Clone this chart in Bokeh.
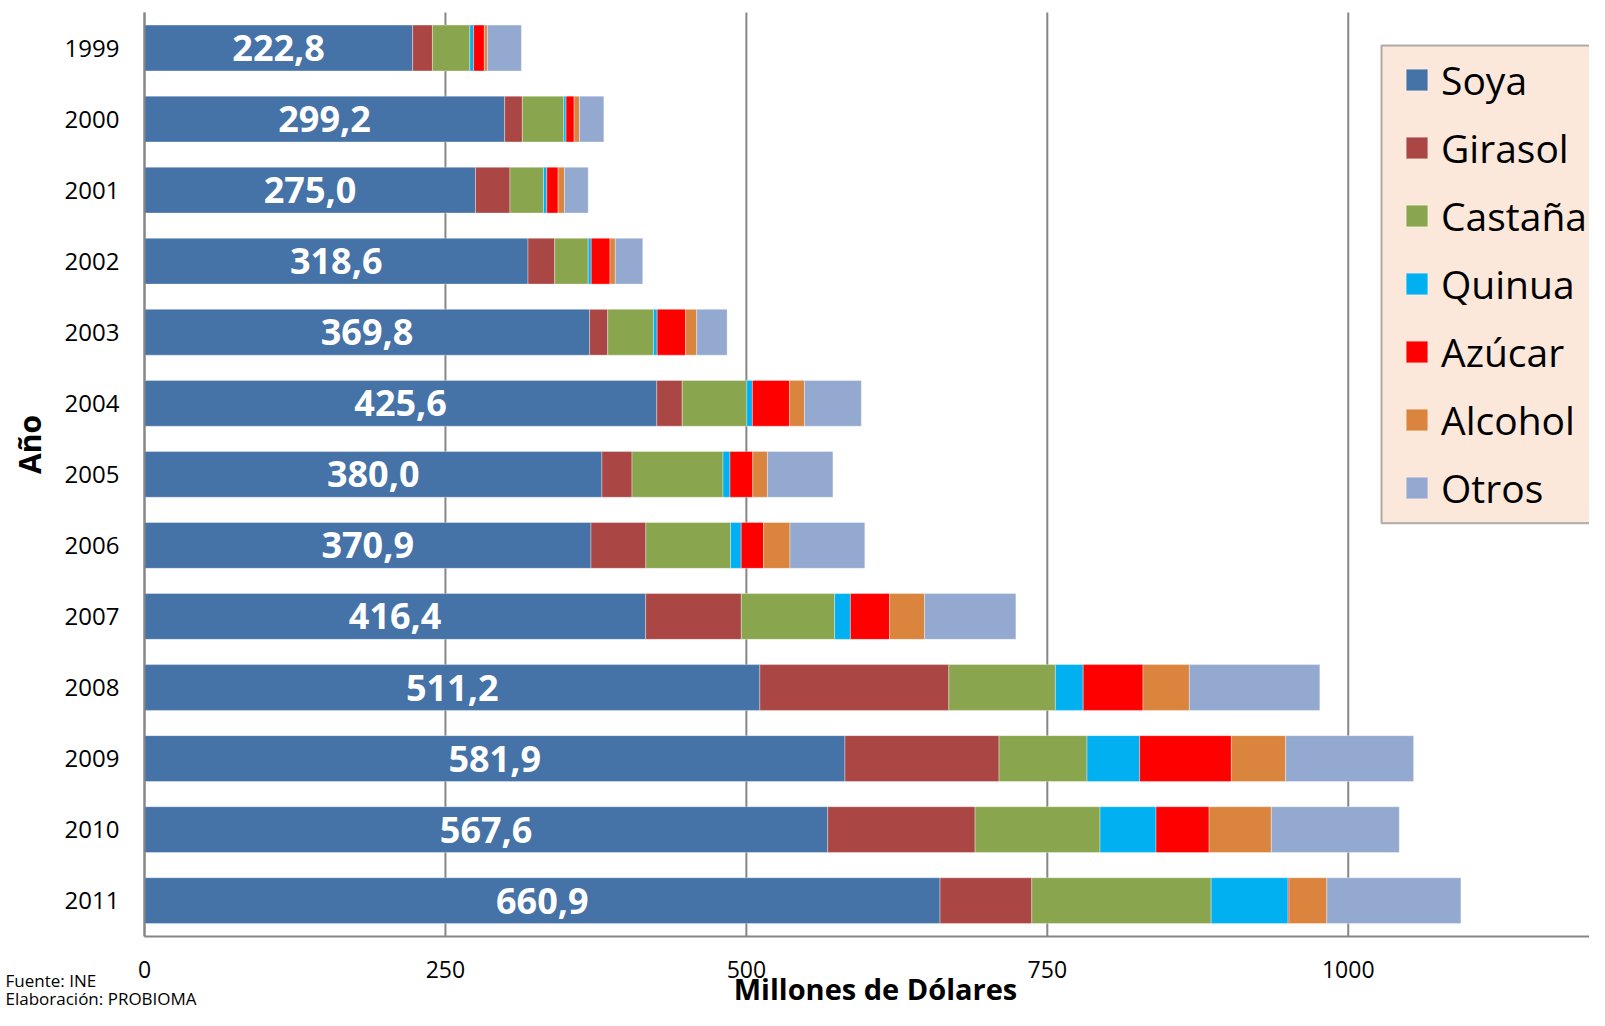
import math
from bokeh.plotting import figure
from bokeh.models import (ColumnDataSource, Range1d, FixedTicker, Legend, LegendItem,
                          Label, LinearAxis, BoxAnnotation)
from bokeh.core.properties import value
from bokeh.embed import file_html
from bokeh.resources import INLINE

years = [1999, 2000, 2001, 2002, 2003, 2004, 2005, 2006, 2007, 2008, 2009, 2010, 2011]
soya = [222.8, 299.2, 275.0, 318.6, 369.8, 425.6, 380.0, 370.9, 416.4, 511.2, 581.9, 567.6, 660.9]
girasol = [16.4, 14.7, 28.6, 22.2, 15.0, 21.1, 25.0, 45.6, 79.4, 157.0, 128.0, 122.4, 76.2]
castana = [31.1, 34.4, 27.8, 27.8, 38.0, 53.6, 75.6, 70.3, 77.5, 88.5, 73.1, 103.8, 149.0]
quinua = [3.1, 1.9, 2.8, 2.5, 3.1, 4.7, 5.8, 8.9, 13.1, 23.1, 43.7, 46.5, 63.9]
azucar = [8.9, 6.7, 9.4, 15.6, 23.6, 30.8, 18.9, 18.6, 32.5, 49.7, 76.2, 44.1, 0.8]
alcohol = [2.5, 4.4, 5.3, 4.4, 9.2, 12.5, 12.2, 21.9, 29.2, 38.5, 45.1, 51.7, 31.4]
otros = [28.3, 20.3, 19.7, 22.8, 25.3, 47.2, 54.4, 62.2, 75.8, 108.4, 106.3, 106.3, 111.4]

series_names = ["Soya", "Girasol", "Castaña", "Quinua", "Azúcar", "Alcohol", "Otros"]
series_keys = ["soya", "girasol", "castana", "quinua", "azucar", "alcohol", "otros"]
colors = ["#4572A7", "#AA4643", "#89A54E", "#00B0F0", "#FF0000", "#DB843D", "#93A9CF"]
x_ticks = [0, 250, 500, 750, 1000]
x_max = 1200

FONT = "Open Sans"
W, H = 1589, 1010
# layout (pixels): plot area left/top/bottom and the x scale
FRAME_LEFT, FRAME_TOP, FRAME_BOTTOM, FRAME_RIGHT = 144.0, 12.0, 935.7, 1588.5
px_per_unit = (FRAME_RIGHT - FRAME_LEFT) / x_max
n = len(years)
pitch = (FRAME_BOTTOM - FRAME_TOP) / n
y_top_val = years[0] - 0.5
y_bot_val = years[-1] + 0.5

source = ColumnDataSource(data=dict(
    year=years, soya=soya, girasol=girasol, castana=castana, quinua=quinua,
    azucar=azucar, alcohol=alcohol, otros=otros,
    label_x=[v / 2 for v in soya],
    label_text=[f"{v:.1f}".replace(".", ",") for v in soya],
))

x_range = Range1d(-FRAME_LEFT / px_per_unit, x_max + (W - FRAME_RIGHT) / px_per_unit)
y_range = Range1d(start=y_bot_val + (H - FRAME_BOTTOM) / pitch,
                  end=y_top_val - FRAME_TOP / pitch)

p = figure(width=W, height=H, output_backend="svg", toolbar_location=None,
           x_range=x_range, y_range=y_range, x_axis_location=None, y_axis_location=None,
           min_border=0)
p.title.visible = False
p.outline_line_color = None
p.background_fill_color = "white"
p.border_fill_color = "white"
p.grid.visible = False

# vertical grid lines at the x ticks
p.segment(x0=x_ticks, y0=[y_top_val] * len(x_ticks), x1=x_ticks, y1=[y_bot_val] * len(x_ticks),
          line_color="#868686", line_width=2)

renderers = p.hbar_stack(series_keys, y="year", height=0.645, color=colors, source=source,
                         line_color="white", line_alpha=0.35, line_width=1)

p.text(x="label_x", y="year", text="label_text", source=source,
       text_font=value(FONT), text_font_style="bold", text_font_size="36px",
       text_color="white", text_align="center", text_baseline="middle")

# axes fixed at the plot-area edges
xaxis = LinearAxis(fixed_location=y_bot_val, bounds=(0, x_max),
                   ticker=FixedTicker(ticks=x_ticks))
xaxis.major_tick_line_color = None
xaxis.minor_tick_line_color = None
xaxis.major_tick_out = 0
xaxis.major_tick_in = 0
xaxis.axis_line_color = "#868686"
xaxis.axis_line_width = 2
xaxis.major_label_standoff = 25
xaxis.major_label_text_font = FONT
xaxis.major_label_text_font_size = "23px"
xaxis.major_label_text_color = "black"
p.add_layout(xaxis, "below")

yaxis = LinearAxis(fixed_location=0, bounds=(y_top_val, y_bot_val),
                   ticker=FixedTicker(ticks=years),
                   major_label_overrides={y: str(y) for y in years})
yaxis.major_tick_line_color = None
yaxis.minor_tick_line_color = None
yaxis.major_tick_out = 0
yaxis.major_tick_in = 0
yaxis.axis_line_color = "#868686"
yaxis.axis_line_width = 2
yaxis.major_label_standoff = 25
yaxis.major_label_text_font = FONT
yaxis.major_label_text_font_size = "24px"
yaxis.major_label_text_color = "black"
p.add_layout(yaxis, "left")

# legend box and legend
p.add_layout(BoxAnnotation(left=1381, right=1700, top=H - 45, bottom=H - 522.7,
                           left_units="screen", right_units="screen",
                           top_units="screen", bottom_units="screen",
                           fill_color="#FCE8DA", fill_alpha=1.0,
                           line_color="black", line_width=2, level="overlay"))
items = [LegendItem(label=nm, renderers=[r]) for nm, r in zip(series_names, renderers)]
legend = Legend(items=items, location=(1403, H - 514), orientation="vertical",
                background_fill_alpha=0.0, border_line_color=None,
                label_text_font=FONT, label_text_font_size="39px", label_text_color="black",
                glyph_width=27, glyph_height=27, label_standoff=11,
                padding=0, spacing=15, margin=0)
p.add_layout(legend, "center")

# titles and notes
p.add_layout(Label(x=28.5, y=H - 444, x_units="screen", y_units="screen", text="Año",
                   angle=math.pi / 2, text_font=FONT, text_font_style="bold",
                   text_font_size="30px", text_align="center", text_baseline="middle",
                   text_color="black"))
p.add_layout(Label(x=875, y=H - 988, x_units="screen", y_units="screen",
                   text="Millones de Dólares", text_font=FONT, text_font_style="bold",
                   text_font_size="29px", text_align="center", text_baseline="middle",
                   text_color="black"))
p.add_layout(Label(x=5, y=H - 980, x_units="screen", y_units="screen", text="Fuente: INE",
                   text_font=FONT, text_font_size="17px", text_align="left",
                   text_baseline="middle", text_color="black"))
p.add_layout(Label(x=5, y=H - 998, x_units="screen", y_units="screen",
                   text="Elaboración: PROBIOMA",
                   text_font=FONT, text_font_size="17px", text_align="left",
                   text_baseline="middle", text_color="black"))

open("out.html", "w").write(file_html(p, INLINE))
